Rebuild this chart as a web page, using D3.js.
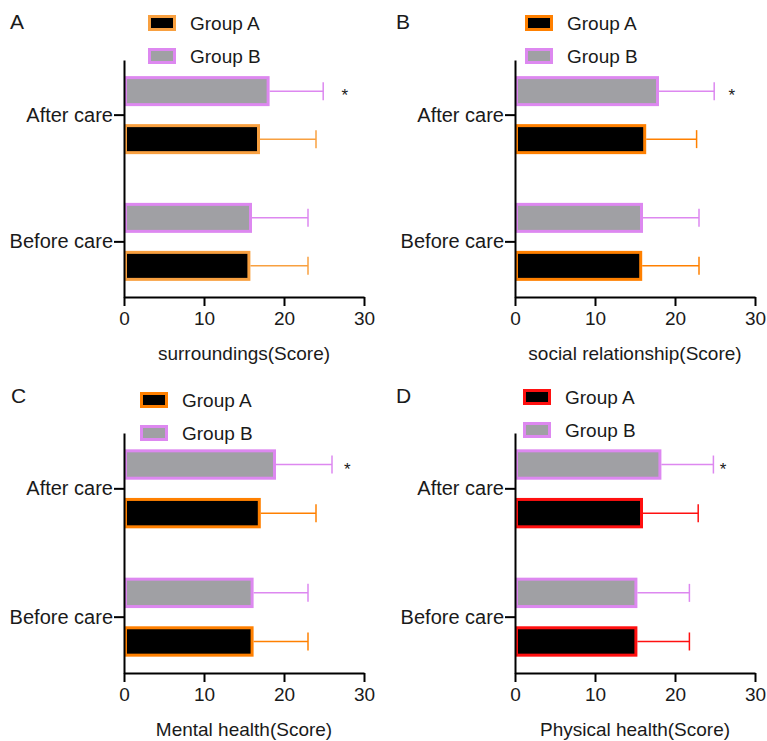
<!DOCTYPE html>
<html>
<head>
<meta charset="utf-8">
<script src="https://cdn.jsdelivr.net/npm/d3@7"></script>
<style>
  html, body { margin: 0; padding: 0; background: #fff; }
  svg { display: block; font-family: "Liberation Sans", Arial, sans-serif; }
</style>
</head>
<body>
<svg id="chart" width="767" height="741"></svg>
<script>
// ---------------- data ----------------
const panelLetters = ["A", "B", "C", "D"];
const categories = ["After care", "Before care"];
const groups = ["Group A", "Group B"];
const axisTitles = ["surroundings(Score)", "social relationship(Score)", "Mental health(Score)", "Physical health(Score)"];
const xTicks = [0, 10, 20, 30];
// means per panel: [After care, Before care]
const groupAMeans = [[17.0, 15.8], [16.4, 15.9], [17.1, 16.2], [16.0, 15.3]];
const groupASD    = [[7.0, 7.2],   [6.3, 7.1],   [6.9, 6.8],   [6.9, 6.5]];
const groupBMeans = [[18.2, 16.0], [18.0, 16.0], [19.0, 16.2], [18.3, 15.3]];
const groupBSD    = [[6.7, 7.0],   [6.9, 7.0],   [7.0, 6.8],   [6.5, 6.5]];
const starValues  = [27.6, 27.1, 27.9, 26.0]; // position of "*" (After care, Group B)
const groupAStroke = ["#f8a040", "#ff8000", "#ff8000", "#ff1010"];
const groupBStroke = "#dd88f0";
const groupAFill = "#000000";
const groupBFill = "#a0a0a4";

// ---------------- layout ----------------
const panelLayout = [
  { x0: 124, x1: 364, top: 60,  axisY: 297, letterX: 10,  letterY: 29, legX: 148, legY: 15 },
  { x0: 515, x1: 755, top: 60,  axisY: 297, letterX: 396, letterY: 29, legX: 525, legY: 15 },
  { x0: 124, x1: 364, top: 433, axisY: 673, letterX: 11,  letterY: 403, legX: 140, legY: 392 },
  { x0: 515, x1: 755, top: 433, axisY: 673, letterX: 396, letterY: 403, legX: 523, legY: 389 }
];
const textColor = "#1a1a1a";
const svg = d3.select("#chart");

panelLetters.forEach((letter, i) => {
  const L = panelLayout[i];
  const g = svg.append("g");
  const x = d3.scaleLinear().domain([0, 30]).range([L.x0, L.x1]);
  const y0 = d3.scaleBand().domain(categories).range([L.top, L.axisY]).paddingInner(0.13).paddingOuter(0);
  const y1 = d3.scaleBand().domain(["Group B", "Group A"]).range([0, y0.bandwidth()])
    .paddingInner(0.375).paddingOuter(0.336);

  const rows = [];
  categories.forEach((c, ci) => {
    rows.push({ cat: c, grp: "Group B", mean: groupBMeans[i][ci], sd: groupBSD[i][ci],
                fill: groupBFill, stroke: groupBStroke });
    rows.push({ cat: c, grp: "Group A", mean: groupAMeans[i][ci], sd: groupASD[i][ci],
                fill: groupAFill, stroke: groupAStroke[i] });
  });

  const sw = 3;
  // error bars
  rows.forEach(r => {
    const cy = y0(r.cat) + y1(r.grp) + y1.bandwidth() / 2;
    g.append("line").attr("x1", x(r.mean)).attr("x2", x(r.mean + r.sd))
      .attr("y1", cy).attr("y2", cy).attr("stroke", r.stroke).attr("stroke-width", 1.5);
    g.append("line").attr("x1", x(r.mean + r.sd)).attr("x2", x(r.mean + r.sd))
      .attr("y1", cy - 9).attr("y2", cy + 9).attr("stroke", r.stroke).attr("stroke-width", 1.5);
  });
  // bars
  g.selectAll("rect.bar").data(rows).join("rect").attr("class", "bar")
    .attr("x", x(0) + sw / 2)
    .attr("width", d => Math.max(0, x(d.mean) - x(0) - sw))
    .attr("y", d => y0(d.cat) + y1(d.grp) + sw / 2)
    .attr("height", y1.bandwidth() - sw)
    .attr("fill", d => d.fill).attr("stroke", d => d.stroke).attr("stroke-width", sw);

  // star
  const starY = y0(categories[0]) + y1("Group B") + y1.bandwidth() / 2;
  g.append("text").attr("x", x(starValues[i])).attr("y", starY + 10)
    .attr("text-anchor", "middle").attr("font-size", 17).attr("fill", textColor).text("*");

  // axes
  const xAxis = d3.axisBottom(x).tickValues(xTicks).tickSize(9).tickSizeOuter(0).tickPadding(6);
  const gx = g.append("g").attr("transform", `translate(0,${L.axisY})`).call(xAxis);
  gx.select(".domain").attr("stroke", "#000").attr("stroke-width", 2);
  gx.selectAll(".tick line").attr("stroke", "#000").attr("stroke-width", 2);
  gx.selectAll(".tick text").attr("font-size", 19).attr("fill", textColor)
    .attr("font-family", "Liberation Sans, Arial, sans-serif");

  const yAxis = d3.axisLeft(y0).tickSize(10).tickSizeOuter(0).tickPadding(1);
  const gy = g.append("g").attr("transform", `translate(${L.x0},0)`).call(yAxis);
  gy.select(".domain").attr("stroke", "#000").attr("stroke-width", 2);
  gy.selectAll(".tick line").attr("stroke", "#000").attr("stroke-width", 2);
  gy.selectAll(".tick text").attr("font-size", 20).attr("fill", textColor)
    .attr("font-family", "Liberation Sans, Arial, sans-serif");

  // axis title
  g.append("text").attr("x", (L.x0 + L.x1) / 2).attr("y", L.axisY + 63)
    .attr("text-anchor", "middle").attr("font-size", 19).attr("fill", textColor)
    .text(axisTitles[i]);

  // panel letter
  g.append("text").attr("x", L.letterX).attr("y", L.letterY)
    .attr("font-size", 21).attr("fill", textColor).text(letter);

  // legend
  const legendItems = [
    { name: groups[0], fill: groupAFill, stroke: groupAStroke[i] },
    { name: groups[1], fill: groupBFill, stroke: groupBStroke }
  ];
  legendItems.forEach((d, k) => {
    const ly = L.legY + k * 33;
    g.append("rect").attr("x", L.legX + 1.5).attr("y", ly + 1.5)
      .attr("width", 25).attr("height", 13)
      .attr("fill", d.fill).attr("stroke", d.stroke).attr("stroke-width", 3);
    g.append("text").attr("x", L.legX + 42).attr("y", ly + 8).attr("dy", "0.35em")
      .attr("font-size", 19).attr("fill", textColor).text(d.name);
  });
});
</script>
</body>
</html>
